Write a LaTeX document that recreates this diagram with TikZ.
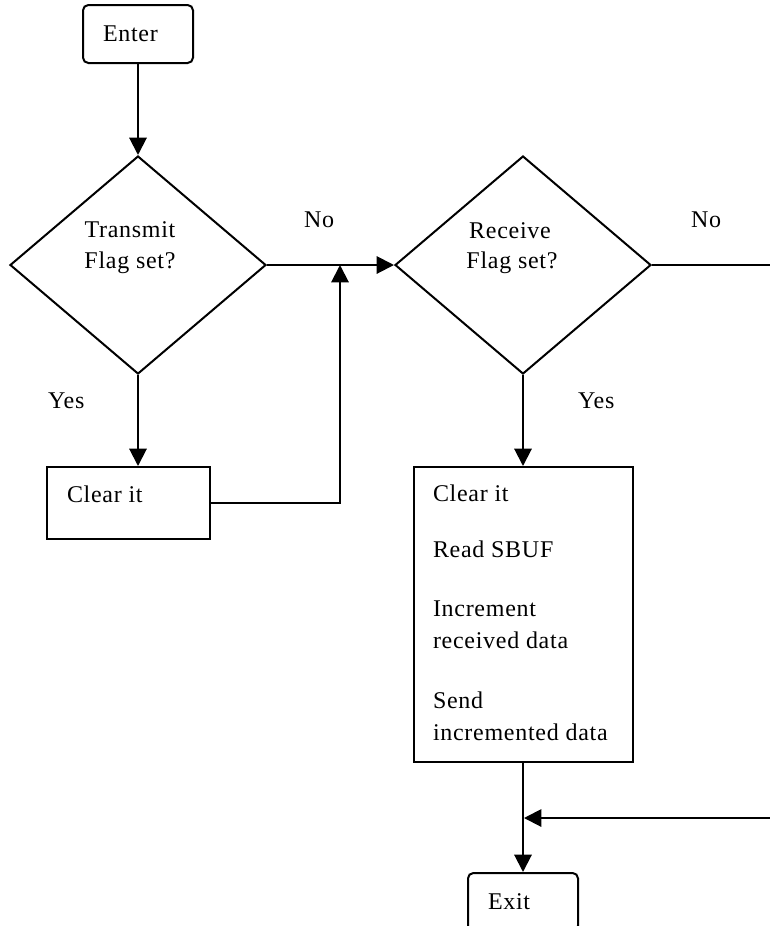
\documentclass[tikz,border=0pt]{standalone}
\usepackage{fontspec}
\setmainfont{Liberation Serif}[LetterSpace=3]
\usetikzlibrary{shapes.geometric,arrows.meta}

\begin{document}
\begin{tikzpicture}[x=0.75pt, y=-0.75pt, line width=1.5pt,
  every node/.style={font=\fontsize{18pt}{22pt}\selectfont},
  term/.style={draw, rounded corners=4pt, minimum height=43.5pt,
    inner xsep=15pt, inner ysep=0pt, text width=52.5pt, align=left},
  decision/.style={draw, diamond, minimum width=192pt, minimum height=163.5pt, inner sep=0pt},
  proc/.style={draw, rectangle, inner sep=0pt},
  ctxt/.style={inner sep=0pt, anchor=base},
  ltxt/.style={inner sep=0pt, anchor=base west},
  flow/.style={-{Triangle[length=13pt,width=13pt]}},
]
\useasboundingbox (0,0) rectangle (770,926);
\clip (0,0) rectangle (770,926);

% terminals
\node[term] (enter) at (138,34) {Enter};
\node[term] (exit) at (523,902) {Exit};

% decisions
\node[decision] (d1) at (138,265) {};
\node[ctxt] (d1a) at (130,237) {Transmit};
\node[ctxt] (d1b) at (130,268) {Flag set?};

\node[decision] (d2) at (523,265) {};
\node[ctxt] (d2a) at (510,238) {Receive};
\node[ctxt] (d2b) at (512,268) {Flag set?};

% process boxes
\node[proc, minimum width=122.25pt, minimum height=54pt] (b1) at (128.5,503) {};
\node[ltxt] (b1t) at (66,502) {Clear it};

\node[proc, minimum width=164.25pt, minimum height=221.25pt] (b2) at (523,614.5) {};
\node[ltxt] (b2a) at (432,501) {Clear it};
\node[ltxt] (b2b) at (432,557) {Read SBUF};
\node[ltxt] (b2c) at (432,616) {Increment};
\node[ltxt] (b2d) at (432,648) {received data};
\node[ltxt] (b2e) at (432,708) {Send};
\node[ltxt] (b2f) at (432,740) {incremented data};

% branch labels
\node[ltxt] (no1) at (303,227) {No};
\node[ltxt] (no2) at (690,227) {No};
\node[ltxt] (yes1) at (47,408) {Yes};
\node[ltxt] (yes2) at (577,408) {Yes};

% junction and off-page points
\coordinate (j1) at (340,265);
\coordinate (r1) at (775,265);
\coordinate (r2) at (775,818);
\coordinate (j2) at (524,818);

% connectors
\draw[flow] (enter.south) -- (enter.south |- d1.north);
\draw[flow] (d1.east) -- (d2.west);
\draw[flow] (d1.south) -- (d1.south |- b1.north);
\draw[flow] (b1.east) -| (j1);
\draw (d2.east) -- (r1);
\draw[flow] (d2.south) -- (d2.south |- b2.north);
\draw[flow] (b2.south) -- (b2.south |- exit.north);
\draw[flow] (r2) -- (j2);
\end{tikzpicture}
\end{document}
